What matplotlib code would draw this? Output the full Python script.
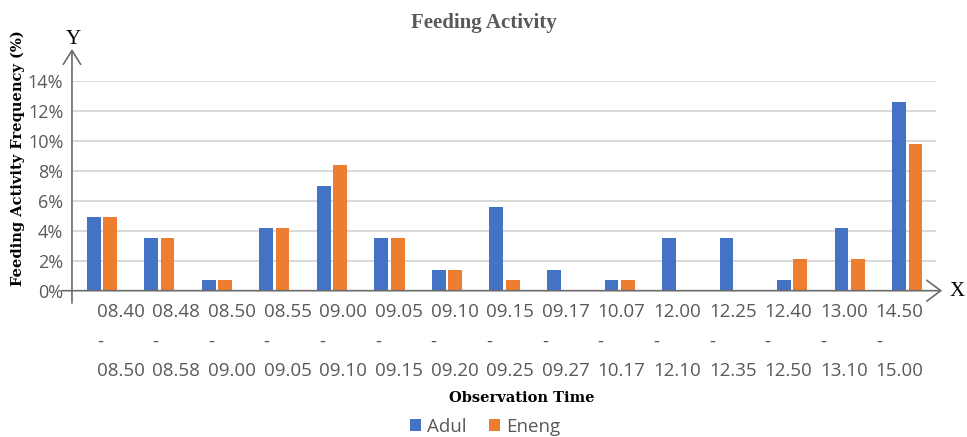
import matplotlib.pyplot as plt
import numpy as np

# observation windows (start - end)
time_start = ["08.40", "08.48", "08.50", "08.55", "09.00", "09.05", "09.10", "09.15",
              "09.17", "10.07", "12.00", "12.25", "12.40", "13.00", "14.50"]
time_end = ["08.50", "08.58", "09.00", "09.05", "09.10", "09.15", "09.20", "09.25",
            "09.27", "10.17", "12.10", "12.35", "12.50", "13.10", "15.00"]

# feeding activity frequency (%)
adul = [4.9, 3.5, 0.7, 4.2, 7.0, 3.5, 1.4, 5.6, 1.4, 0.7, 3.5, 3.5, 0.7, 4.2, 12.6]
eneng = [4.9, 3.5, 0.7, 4.2, 8.4, 3.5, 1.4, 0.7, 0.0, 0.7, 0.0, 0.0, 2.1, 2.1, 9.8]

y_ticks = [0, 2, 4, 6, 8, 10, 12, 14]

blue = "#4472C4"
orange = "#ED7D31"
gray = "#595959"
axis_gray = "#6b6b6b"

fig = plt.figure(figsize=(9.67, 4.37), dpi=100)
ax = fig.add_axes([0.0755, 0.3348, 0.8925, 0.4799])

x = np.arange(len(time_start))
w = 0.24
b1 = ax.bar(x - 0.142, adul, width=w, color=blue, label="Adul")
b2 = ax.bar(x + 0.142, eneng, width=w, color=orange, label="Eneng")

ax.set_xlim(-0.5, len(x) - 0.5)
ax.set_ylim(0, 14)
ax.set_yticks(y_ticks)
ax.set_yticklabels([f"{v}%" for v in y_ticks])
ax.yaxis.grid(True, color="#d9d9d9", lw=1.4)
ax.set_axisbelow(True)
for s in ax.spines.values():
    s.set_visible(False)

# category labels sit a bit off the bar groups in the original
label_pos = x * 0.967 + 0.33
ax.set_xticks(label_pos)
ax.set_xticklabels([f"{a}\n-\n{b}" for a, b in zip(time_start, time_end)],
                   multialignment="left", linespacing=1.8)
ax.tick_params(axis="both", length=0, labelcolor=gray, labelsize=13.5)
ax.tick_params(axis="x", pad=9)
ax.tick_params(axis="y", pad=7, labelsize=13)
for t in ax.get_xticklabels() + ax.get_yticklabels():
    t.set_fontfamily("Open Sans")

# axis lines with open arrow heads
ax.annotate("", xy=(-0.0012, 1.153), xytext=(-0.0012, -0.059), xycoords="axes fraction",
            arrowprops=dict(arrowstyle="->,head_length=0.4,head_width=0.25", color=axis_gray,
                            lw=1.2, shrinkA=0, shrinkB=0, mutation_scale=25))
ax.annotate("", xy=(1.007, 0), xytext=(-0.0127, 0), xycoords="axes fraction",
            arrowprops=dict(arrowstyle="->,head_length=0.4,head_width=0.3", color=axis_gray,
                            lw=1.2, shrinkA=0, shrinkB=0, mutation_scale=25))
fig.text(73 / 967, 1 - 39 / 437, "Y", fontsize=15, family="Liberation Serif",
         ha="center", va="center", color="black")
fig.text(957 / 967, 1 - 291 / 437, "X", fontsize=15, family="Liberation Serif",
         ha="center", va="center", color="black")

fig.text(0.5, 1 - 23 / 437, "Feeding Activity", fontsize=15, family="Liberation Serif",
         weight="bold", color=gray, ha="center", va="center")
fig.text(18 / 967, 1 - 158 / 437, "Feeding Activity Frequency (%)", rotation=90,
         fontsize=10.5, family="DejaVu Serif", weight="bold", ha="center", va="center")
fig.text(522 / 967, 1 - 398 / 437, "Observation Time", fontsize=10.5,
         family="DejaVu Serif", weight="bold", ha="center", va="center")

leg = fig.legend(handles=[b1, b2], loc="center", bbox_to_anchor=(485 / 967, 1 - 427 / 437),
                 ncol=2, frameon=False, handlelength=0.6, handleheight=0.6,
                 handletextpad=0.3, columnspacing=1.2,
                 prop={"family": "Open Sans", "size": 13.5})
for t in leg.get_texts():
    t.set_color(gray)

fig.savefig("out.png", dpi=100)
